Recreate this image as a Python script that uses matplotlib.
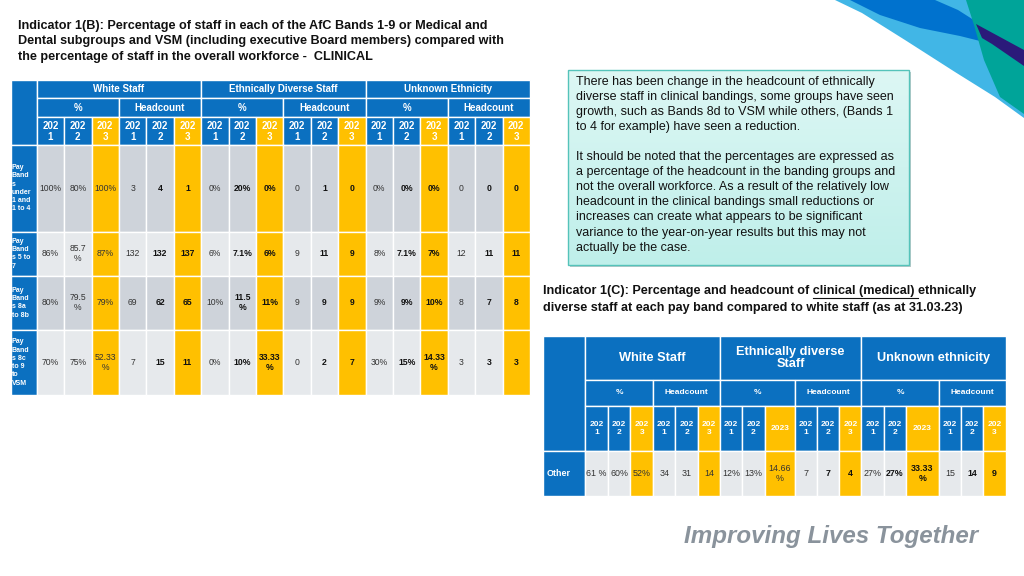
import matplotlib
matplotlib.use("Agg")
import matplotlib.pyplot as plt
from matplotlib.patches import Rectangle, Polygon
import numpy as np

plt.rcParams['font.family'] = ['Liberation Sans', 'DejaVu Sans']

# ---- data: Indicator 1(B) table ----
groups = ["White Staff", "Ethnically Diverse Staff", "Unknown Ethnicity"]
subgroups = ["%", "Headcount"]
years = ["202\n1", "202\n2", "202\n3"]
band_labels = ["Pay\nBand\ns\nunder\n1 and\n1 to 4", "Pay\nBand\ns 5 to\n7",
               "Pay\nBand\ns 8a\nto 8b", "Pay\nBand\ns 8c\nto 9\nto\nVSM"]
white_pct = [["100%", "80%", "100%"], ["86%", "85.7\n%", "87%"],
             ["80%", "79.5\n%", "79%"], ["70%", "75%", "52.33\n%"]]
white_hc = [[3, 4, 1], [132, 132, 137], [69, 62, 65], [7, 15, 11]]
eth_pct = [["0%", "20%", "0%"], ["6%", "7.1%", "6%"],
           ["10%", "11.5\n%", "11%"], ["0%", "10%", "33.33\n%"]]
eth_hc = [[0, 1, 0], [9, 11, 9], [9, 9, 9], [0, 2, 7]]
unk_pct = [["0%", "0%", "0%"], ["8%", "7.1%", "7%"],
           ["9%", "9%", "10%"], ["30%", "15%", "14.33\n%"]]
unk_hc = [[0, 0, 0], [12, 11, 11], [8, 7, 8], [3, 3, 3]]

# ---- data: Indicator 1(C) table ----
groups2 = ["White Staff", "Ethnically diverse\nStaff", "Unknown ethnicity"]
years2 = [["202\n1", "202\n2", "202\n3"], ["202\n1", "202\n2", "202\n3"],
          ["202\n1", "202\n2", "2023"], ["202\n1", "202\n2", "202\n3"],
          ["202\n1", "202\n2", "2023"], ["202\n1", "202\n2", "202\n3"]]
row2_label = "Other"
other_row = [["61 %", "60%", "52%"], [34, 31, 14], ["12%", "13%", "14.66\n%"],
             [7, 7, 4], ["27%", "27%", "33.33\n%"], [15, 14, 9]]

title1 = ("Indicator 1(B): Percentage of staff in each of the AfC Bands 1-9 or Medical and\n"
          "Dental subgroups and VSM (including executive Board members) compared with\n"
          "the percentage of staff in the overall workforce -  CLINICAL")
t2_pre = "Indicator 1(C): Percentage and headcount of "
t2_ul = "clinical (medical) "
t2_post = "ethnically"
t2_line2 = "diverse staff at each pay band compared to white staff (as at 31.03.23)"
note = ("There has been change in the headcount of ethnically\n"
        "diverse staff in clinical bandings, some groups have seen\n"
        "growth, such as Bands 8d to VSM while others, (Bands 1\n"
        "to 4 for example) have seen a reduction.\n\n"
        "It should be noted that the percentages are expressed as\n"
        "a percentage of the headcount in the banding groups and\n"
        "not the overall workforce. As a result of the relatively low\n"
        "headcount in the clinical bandings small reductions or\n"
        "increases can create what appears to be significant\n"
        "variance to the year-on-year results but this may not\n"
        "actually be the case.")

BLUE = "#0B70C0"
YEL = "#FFC000"
GREY_D = "#CED3DA"
GREY_L = "#E6E9EC"

fig = plt.figure(figsize=(10.24, 5.76), dpi=100)
ax = fig.add_axes([0, 0, 1, 1])
ax.set_xlim(0, 1024)
ax.set_ylim(576, 0)
ax.axis("off")


def cell(x0, x1, y0, y1, color, text="", size=6, weight="normal", tcolor="#222222", lw=1.0, ec="white"):
    ax.add_patch(Rectangle((x0, y0), x1 - x0, y1 - y0, facecolor=color, edgecolor=ec, lw=lw))
    if text != "":
        ax.text((x0 + x1) / 2, (y0 + y1) / 2, str(text), ha="center", va="center",
                fontsize=size, fontweight=weight, color=tcolor, linespacing=1.1)


# ---- logo swooshes top right ----
ax.add_patch(Polygon([(835, 0), (1024, 0), (1024, 118), (995, 97), (955, 72),
                      (905, 40), (862, 13)], closed=True, color="#41B6E6", lw=0))
ax.add_patch(Polygon([(850, 0), (935, 0), (958, 10), (980, 24), (992, 44),
                      (960, 36), (920, 28), (880, 15)], closed=True, color="#0072CE", lw=0))
ax.add_patch(Polygon([(966, 0), (1024, 0), (1024, 114), (1000, 97), (984, 60),
                      (974, 25)], closed=True, color="#00A499", lw=0))
ax.add_patch(Polygon([(976, 24), (1024, 50), (1024, 66), (992, 44), (982, 38)],
                     closed=True, color="#2B1A7A", lw=0))

# ---- title 1 ----
ax.text(18, 19.5, title1, fontsize=9.1, fontweight="bold", va="top", ha="left",
        linespacing=1.43, color="#111111")

# ---- table 1 ----
t_left, t_head = 10.5, 36.7
col_w = (530 - t_head) / 18
xs = [t_head + i * col_w for i in range(19)]
hy = [80, 98.3, 117.3, 145]
ry = [145, 231.7, 275.7, 330, 395]

cell(t_left, t_head, hy[0], hy[3], BLUE)
for g, name in enumerate(groups):
    cell(xs[g * 6], xs[g * 6 + 6], hy[0], hy[1], BLUE, name, 7, "bold", "white")
    for s, sname in enumerate(subgroups):
        k = g * 6 + s * 3
        cell(xs[k], xs[k + 3], hy[1], hy[2], BLUE, sname, 7, "bold", "white")
        for yi, yr in enumerate(years):
            c = YEL if yi == 2 else BLUE
            cell(xs[k + yi], xs[k + yi + 1], hy[2], hy[3], c, yr, 7, "bold", "white")

table1 = [white_pct, white_hc, eth_pct, eth_hc, unk_pct, unk_hc]
for r in range(len(band_labels)):
    grey = GREY_D if r % 2 == 0 else GREY_L
    ax.add_patch(Rectangle((t_left, ry[r]), t_head - t_left, ry[r + 1] - ry[r],
                           facecolor=BLUE, edgecolor="white", lw=1.0))
    ax.text(t_left + 1.5, (ry[r] + ry[r + 1]) / 2, band_labels[r], fontsize=5,
            fontweight="bold", color="white", ha="left", va="center", linespacing=1.25)
    for b, block in enumerate(table1):
        for yi in range(3):
            k = b * 3 + yi
            c = YEL if yi == 2 else grey
            bold = b > 0 and yi > 0
            cell(xs[k], xs[k + 1], ry[r], ry[r + 1], c, block[r][yi], 6.2,
                 "bold" if bold else "normal", "#111111" if bold else "#333333")

# ---- note box ----
bx0, bx1, by0, by1 = 568, 909, 70, 265
ax.add_patch(Rectangle((bx0 + 2, by0 + 2), bx1 - bx0, by1 - by0, facecolor="#B8C8C8", lw=0))
grad = np.linspace(0, 1, 256).reshape(-1, 1)
ax.imshow(grad, extent=(bx0, bx1, by1, by0), cmap=matplotlib.colors.LinearSegmentedColormap.from_list(
    "box", ["#DDF7F4", "#BFEFEA"]), aspect="auto", zorder=1)
ax.add_patch(Rectangle((bx0, by0), bx1 - bx0, by1 - by0, facecolor="none",
                       edgecolor="#55C3BA", lw=1.0, zorder=2))
ax.text(bx0 + 8, by0 + 5.5, note, fontsize=9, va="top", ha="left", color="#111111",
        linespacing=1.345, zorder=3)

# ---- title 2 with underlined part ----
fs2 = 9.1
x2 = 543
fig.canvas.draw()
renderer = fig.canvas.get_renderer()


def text_width(s):
    t = ax.text(0, 0, s, fontsize=fs2, fontweight="bold")
    w = t.get_window_extent(renderer).width
    t.remove()
    return w  # pixels == data units here (1 unit per pixel)


full = t2_pre + t2_ul + t2_post
w_full = text_width(full)
u0 = x2 + w_full - text_width(t2_ul + t2_post)
u1 = x2 + w_full - text_width(t2_post)
ax.text(x2, 291, full, fontsize=fs2, fontweight="bold", va="center", ha="left", color="#111111")
ax.plot([u0, u1 - 0.5], [297.5, 297.5], color="#111111", lw=0.8)
ax.text(x2, 307.5, t2_line2, fontsize=fs2, fontweight="bold", va="center", ha="left",
        color="#111111")

# ---- table 2 ----
t2_left, t2_head = 543.3, 585
w2 = [22.7, 22.7, 22.7, 22.3, 22.3, 22.3, 22.3, 22.3, 30, 22.3, 22.3, 22.3,
      22.3, 22.3, 32.7, 22.3, 22.3, 22.3]
xs2 = [t2_head]
for w in w2:
    xs2.append(xs2[-1] + w)
hy2 = [336, 380, 406, 450.7, 495.7]

cell(t2_left, t2_head, hy2[0], hy2[3], BLUE)
for g, name in enumerate(groups2):
    cell(xs2[g * 6], xs2[g * 6 + 6], hy2[0], hy2[1], BLUE, name, 9.2, "bold", "white")
    for s, sname in enumerate(subgroups):
        k = g * 6 + s * 3
        cell(xs2[k], xs2[k + 3], hy2[1], hy2[2], BLUE, sname, 6, "bold", "white")
        for yi in range(3):
            c = YEL if yi == 2 else BLUE
            cell(xs2[k + yi], xs2[k + yi + 1], hy2[2], hy2[3], c,
                 years2[g * 2 + s][yi], 6, "bold", "white")

ax.add_patch(Rectangle((t2_left, hy2[3]), t2_head - t2_left, hy2[4] - hy2[3],
                       facecolor=BLUE, edgecolor="white", lw=1.0))
ax.text(t2_left + 3, (hy2[3] + hy2[4]) / 2, row2_label, fontsize=6.4, fontweight="bold",
        color="white", ha="left", va="center")
for b, block in enumerate(other_row):
    for yi in range(3):
        k = b * 3 + yi
        c = YEL if yi == 2 else GREY_L
        bold = b > 2 and yi > 0
        cell(xs2[k], xs2[k + 1], hy2[3], hy2[4], c, block[yi], 6.4,
             "bold" if bold else "normal", "#111111" if bold else "#333333")

# ---- footer ----
ax.text(978, 537, "Improving Lives Together", fontsize=17.4, fontweight="bold",
        style="italic", color="#8A939C", ha="right", va="center")

fig.savefig("out.png", dpi=100)
